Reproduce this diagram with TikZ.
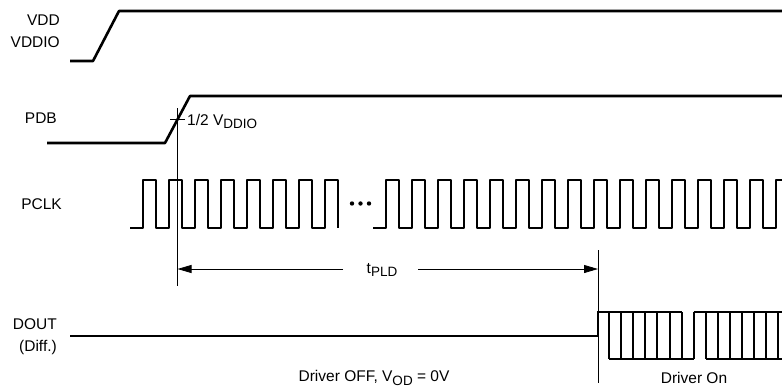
\documentclass[tikz,border=0pt]{standalone}
\usepackage{fontspec}
\setmainfont{Liberation Sans}
\usetikzlibrary{arrows.meta}
\newcommand\lowtxt[1]{\raisebox{-0.4ex}{\fontsize{13.5}{13.5}\selectfont #1}}
\tikzset{
  sig/.style={line width=2.6pt, line join=round},
  clk/.style={line width=2.3pt, line join=round},
  bus/.style={line width=2pt},
  cursor/.style={line width=0.8pt},
  dim/.style={line width=0.8pt, -{Triangle[length=14pt,width=8pt]}},
  lbl/.style={font=\fontsize{15.5}{22}\selectfont, inner sep=0pt},
}
\begin{document}
\begin{tikzpicture}[x=1pt,y=-1pt]
\useasboundingbox (0,0) rectangle (782,389);
\clip (0,0) rectangle (782,389);

% ---- labels
\node[lbl, anchor=east, align=right] (lvdd) at (60,31.5) {VDD\\VDDIO};
\node[lbl, anchor=east] (lpdb) at (57,118) {PDB};
\node[lbl, anchor=east] (lpclk) at (62,204) {PCLK};
\node[lbl, anchor=east, align=right] (ldout) at (57,336.5) {DOUT\\(Diff.)};

% ---- VDD
\coordinate (v0) at (70,61);
\coordinate (v1) at (93,61);
\coordinate (v2) at (119,11);
\coordinate (v3) at (782,11);
\draw[sig] (v0) -- (v1) -- (v2) -- (v3);

% ---- PDB
\coordinate (p0) at (47,143);
\coordinate (p1) at (165,143);
\coordinate (p2) at (190,96);
\coordinate (p3) at (782,96);
\draw[sig] (p0) -- (p1) -- (p2) -- (p3);

% ---- PCLK
\draw[clk] (130,228) \foreach \k in {0,...,7}{
  -- (143+26*\k,228) -- (143+26*\k,180) -- (156+26*\k,180) -- (156+26*\k,228)};
\draw[clk] (373,228) \foreach \k in {0,...,15}{
  -- (386+26*\k,228) -- (386+26*\k,180) -- (399+26*\k,180) -- (399+26*\k,228)};
\foreach \x [count=\i] in {352,360.5,369}
  \fill (\x,203.5) circle (2.2pt) coordinate (dot\i);

% ---- cursors
\coordinate (c1t) at (177.5,108);
\coordinate (c1b) at (177.5,286);
\draw[cursor] (c1t) -- (c1b);
\coordinate (tk0) at (170,119.5);
\coordinate (tk1) at (185,119.5);
\draw[cursor] (tk0) -- (tk1);
\node[lbl, anchor=base west] (half) at (187,125) {1/2 V\lowtxt{DDIO}};

\coordinate (c2t) at (598,250);
\coordinate (c2b) at (598,383);
\draw[cursor] (c2t) -- (c2b);

% ---- tPLD
\node[lbl] (tpld) at (382,270) {t\lowtxt{PLD}};
\coordinate (a1s) at (343,269);
\coordinate (a1e) at (177.5,269);
\coordinate (a2s) at (418,269);
\coordinate (a2e) at (598,269);
\draw[dim] (a1s) -- (a1e);
\draw[dim] (a2s) -- (a2e);

% ---- DOUT
\coordinate (d0) at (70,336);
\coordinate (d1) at (598,336);
\coordinate (d2) at (598,312);
\draw[sig] (d0) -- (d1);
\draw[bus] (d1) -- (d2) -- (681.6,312);
\draw[bus] (693.7,312) -- (782,312);
\draw[bus] (609,359) -- (693.7,359);
\draw[bus] (705.8,359) -- (782,359);
\foreach \i in {1,...,15}
  \draw[bus] (609+12.1*\i-12.1,312) -- (609+12.1*\i-12.1,359);

\node[lbl] (off) at (374,378) {Driver OFF, V\lowtxt{OD} = 0V};
\node[lbl] (on) at (694,378) {Driver On};
\end{tikzpicture}
\end{document}
